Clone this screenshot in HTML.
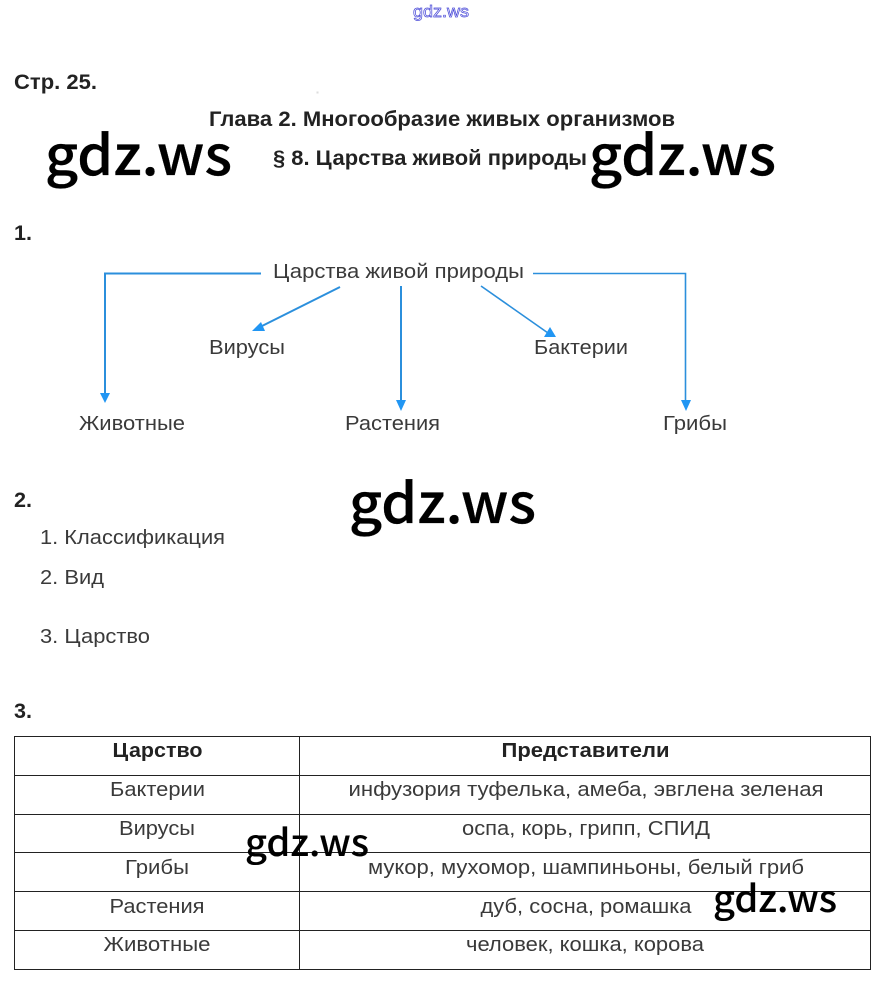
<!DOCTYPE html>
<html><head><meta charset="utf-8">
<style>
html,body{margin:0;padding:0;background:#fff}
svg{display:block}
text{font-family:"Liberation Sans",sans-serif;fill:#333}
.b{font-weight:bold;font-size:21px;fill:#222}
.r{font-size:20px;fill:#3a3a3a}
.n{font-size:21px;font-weight:bold;fill:#222}
.w{font-family:"Noto Sans CJK JP","Liberation Sans",sans-serif;font-size:55px;font-weight:500;fill:#000;stroke:#000;stroke-width:.3}
.m{text-anchor:middle}
</style></head><body>
<svg width="882" height="982" viewBox="0 0 882 982" xmlns="http://www.w3.org/2000/svg">
<rect width="882" height="982" fill="#fff"/>
<text x="413" y="17" style="font-size:17px;fill:#fff;stroke:#4a4ad8;stroke-width:.7" textLength="56" lengthAdjust="spacingAndGlyphs">gdz.ws</text>
<text x="14" y="89" class="n" textLength="83" lengthAdjust="spacingAndGlyphs">Стр. 25.</text>
<rect x="316.500" y="91.500" width="2" height="2" fill="#ddd"/>
<text x="209" y="126" class="b" textLength="466" lengthAdjust="spacingAndGlyphs">Глава 2. Многообразие живых организмов</text>
<text x="273" y="165" class="b" textLength="314" lengthAdjust="spacingAndGlyphs">§ 8. Царства живой природы</text>
<text x="45" y="175" class="w" textLength="187" lengthAdjust="spacingAndGlyphs">gdz.ws</text>
<text x="589" y="175" class="w" textLength="187" lengthAdjust="spacingAndGlyphs">gdz.ws</text>
<text x="14" y="240" class="n" textLength="18" lengthAdjust="spacingAndGlyphs">1.</text>

<g fill="none" stroke="#2b8fdc" stroke-width="2">
<path d="M261 273.500H105V395"/>
<path d="M401 286V402"/>
<path d="M340 287L260 327"/>
</g>
<g fill="none" stroke="#2b8fdc" stroke-width="1.600">
<path d="M533 273.500H685.500V402"/>
<path d="M481 286L548 333"/>
</g>
<g fill="#2196f3">
<path d="M100 393H110L105 403Z"/>
<path d="M396 400H406L401 411Z"/>
<path d="M681 400H691L686 411Z"/>
<path d="M252 331L261 322L265 331Z"/>
<path d="M556 337L550 327L544 337Z"/>
</g>
<text x="273" y="278" class="r" textLength="251" lengthAdjust="spacingAndGlyphs">Царства живой природы</text>
<text x="209" y="354" class="r" textLength="76" lengthAdjust="spacingAndGlyphs">Вирусы</text>
<text x="534" y="354" class="r" textLength="94" lengthAdjust="spacingAndGlyphs">Бактерии</text>
<text x="79" y="430" class="r" textLength="106" lengthAdjust="spacingAndGlyphs">Животные</text>
<text x="345" y="430" class="r" textLength="95" lengthAdjust="spacingAndGlyphs">Растения</text>
<text x="663" y="430" class="r" textLength="64" lengthAdjust="spacingAndGlyphs">Грибы</text>

<text x="14" y="507" class="n" textLength="18" lengthAdjust="spacingAndGlyphs">2.</text>
<text x="349" y="523" class="w" textLength="187" lengthAdjust="spacingAndGlyphs">gdz.ws</text>
<text x="40" y="544" class="r" textLength="185" lengthAdjust="spacingAndGlyphs">1. Классификация</text>
<text x="40" y="584" class="r" textLength="64" lengthAdjust="spacingAndGlyphs">2. Вид</text>
<text x="40" y="643" class="r" textLength="110" lengthAdjust="spacingAndGlyphs">3. Царство</text>
<text x="14" y="718" class="n" textLength="18" lengthAdjust="spacingAndGlyphs">3.</text>

<g stroke="#222" stroke-width="1" fill="none">
<path d="M14 736.500H871M14 775.500H871M14 814.500H871M14 852.500H871M14 891.500H871M14 930.500H871M14 969.500H871"/>
<path d="M14.500 736V970M299.500 736V970M870.500 736V970"/>
</g>
<text x="157.500" y="757" class="b m" style="font-size:20px" textLength="90" lengthAdjust="spacingAndGlyphs">Царство</text>
<text x="585.500" y="757" class="b m" style="font-size:20px" textLength="168" lengthAdjust="spacingAndGlyphs">Представители</text>
<text x="157.500" y="796" class="r m" textLength="95" lengthAdjust="spacingAndGlyphs">Бактерии</text>
<text x="157" y="835" class="r m" textLength="76" lengthAdjust="spacingAndGlyphs">Вирусы</text>
<text x="157" y="874" class="r m" textLength="64" lengthAdjust="spacingAndGlyphs">Грибы</text>
<text x="157" y="913" class="r m" textLength="95" lengthAdjust="spacingAndGlyphs">Растения</text>
<text x="157" y="951" class="r m" textLength="107" lengthAdjust="spacingAndGlyphs">Животные</text>
<text x="586" y="796" class="r m" textLength="475" lengthAdjust="spacingAndGlyphs">инфузория туфелька, амеба, эвглена зеленая</text>
<text x="586" y="835" class="r m" textLength="248" lengthAdjust="spacingAndGlyphs">оспа, корь, грипп, СПИД</text>
<text x="586" y="874" class="r m" textLength="436" lengthAdjust="spacingAndGlyphs">мукор, мухомор, шампиньоны, белый гриб</text>
<text x="586" y="913" class="r m" textLength="211" lengthAdjust="spacingAndGlyphs">дуб, сосна, ромашка</text>
<text x="585" y="951" class="r m" textLength="238" lengthAdjust="spacingAndGlyphs">человек, кошка, корова</text>
<text x="245" y="856" class="w" style="font-size:37px;stroke-width:.1" textLength="124" lengthAdjust="spacingAndGlyphs">gdz.ws</text>
<text x="713" y="912" class="w" style="font-size:37px;stroke-width:.1" textLength="124" lengthAdjust="spacingAndGlyphs">gdz.ws</text>
</svg>
</body></html>
